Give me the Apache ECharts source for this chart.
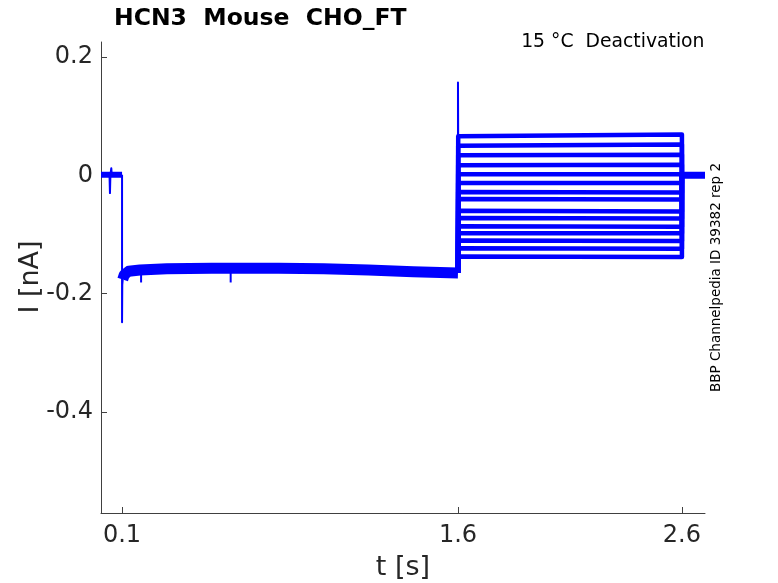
<!DOCTYPE html>
<html>
<head>
<meta charset="utf-8">
<script src="https://cdn.jsdelivr.net/npm/echarts@6/dist/echarts.min.js"></script>
<style>
html,body{margin:0;padding:0;background:#fff;}
#c{width:778px;height:583px;}
</style>
</head>
<body>
<div id="c"></div>
<script>
// ---- data (t in s, I in nA) ----
const xTicks = [0.1, 1.6, 2.6];
const yTicks = [-0.4, -0.2, 0, 0.2];
const xRange = [0.006, 2.703];
const yRange = [-0.5705, 0.2253];

// pre-pulse holding segment
const preT = [0.006, 0.1];
const preI = [0.001, 0.001];
// small artifacts during the pre-pulse segment
const artT = [0.044, 0.046, 0.048, 0.050, 0.052, 0.054];
const artI = [0.000, -0.030, 0.000, 0.001, 0.012, 0.001];

// fast transient at the first step
const stepT = [0.1, 0.1, 0.101, 0.103];
const stepI = [0.001, -0.248, -0.185, -0.176];

// common first test segment
const holdT = [0.103, 0.11, 0.13, 0.18, 0.3, 0.5, 0.8, 1.0, 1.2, 1.4, 1.6];
const holdI = [-0.176, -0.168, -0.162, -0.160, -0.158, -0.157, -0.157, -0.158, -0.160, -0.163, -0.165];
// brief downward glitches in the first test segment
const glitchT = [0.185, 0.585];
const glitchI = [-0.181, -0.181];

// capacity spike at 1.6 s
const spikeT = [1.6, 1.6, 1.601];
const spikeI = [-0.165, 0.157, 0.060];

// deactivation step levels (one per sweep), start and end of 1.6-2.6 s
const sweepStart = [0.066, 0.050, 0.034, 0.017, 0.002, -0.013, -0.028, -0.040, -0.060, -0.072, -0.086, -0.098, -0.110, -0.123, -0.137];
const sweepEnd   = [0.069, 0.052, 0.035, 0.018, 0.002, -0.013, -0.029, -0.041, -0.061, -0.073, -0.087, -0.098, -0.111, -0.124, -0.138];
const segT = [1.601, 2.6];

// tail after return
const tailT = [2.6, 2.703];
const tailI = [0.000, 0.000];

const blue = '#0000ff';
const pairs = (ts, vs) => ts.map((t, i) => [t, vs[i]]);

const series = [];
function addLine(data, width, z) {
  series.push({
    type: 'line', data: data, showSymbol: false, symbol: 'none',
    lineStyle: { color: blue, width: width, join: 'round', cap: 'butt' },
    z: z || 2, animation: false, silent: true
  });
}
addLine(pairs(preT, preI), 6);
addLine(pairs(artT, artI), 2);
addLine(pairs(stepT, stepI), 2);
addLine(pairs(holdT, holdI), 11);
glitchT.forEach((t, k) => addLine([[t, -0.165], [t, glitchI[k]]], 2));
sweepStart.forEach((s, k) => {
  addLine([[1.6, -0.165], [segT[0], s], [segT[1], sweepEnd[k]], [2.6, 0]], 4.5);
});
addLine(pairs(spikeT, spikeI), 2, 3);
addLine(pairs(tailT, tailI), 7);

const chart = echarts.init(document.getElementById('c'), null, { renderer: 'canvas' });
const axisCol = '#404040';
const textCol = '#262626';
const FF = 'DejaVu Sans';
chart.setOption({
  backgroundColor: '#fff',
  animation: false,
  grid: { left: 101, right: 73, top: 42, bottom: 70, containLabel: false },
  xAxis: {
    type: 'value', min: xRange[0], max: xRange[1],
    axisLine: { show: true, onZero: false, lineStyle: { color: axisCol, width: 1 } },
    axisTick: { show: true, inside: true, length: 6, customValues: xTicks, lineStyle: { color: axisCol } },
    axisLabel: { customValues: xTicks, color: textCol, fontSize: 24, fontFamily: FF, margin: 11,
      formatter: v => String(v) },
    splitLine: { show: false }
  },
  yAxis: {
    type: 'value', min: yRange[0], max: yRange[1],
    axisLine: { show: true, onZero: false, lineStyle: { color: axisCol, width: 1 } },
    axisTick: { show: true, inside: true, length: 6, customValues: yTicks, lineStyle: { color: axisCol } },
    axisLabel: { customValues: yTicks, color: textCol, fontSize: 24, fontFamily: FF, margin: 8,
      formatter: v => (Math.abs(v) < 1e-9 ? '0' : String(+v.toFixed(1))) },
    splitLine: { show: false }
  },
  graphic: [
    { type: 'text', x: 114, y: 19, style: { text: 'HCN3  Mouse  CHO_FT', fill: '#000', font: 'bold 23.5px "DejaVu Sans"', verticalAlign: 'middle' } },
    { type: 'text', x: 704.5, y: 42, style: { text: '15 °C  Deactivation', fill: '#000', font: '18.8px "DejaVu Sans"', align: 'right', verticalAlign: 'middle' } },
    { type: 'text', x: 31, y: 277, rotation: Math.PI / 2,
      style: { text: 'I [nA]', fill: textCol, font: '27px "DejaVu Sans"', align: 'center', verticalAlign: 'middle' } },
    { type: 'text', x: 403, y: 568,
      style: { text: 't [s]', fill: textCol, font: '27px "DejaVu Sans"', align: 'center', verticalAlign: 'middle' } },
    { type: 'text', x: 716, y: 277.5, rotation: Math.PI / 2,
      style: { text: 'BBP Channelpedia ID 39382 rep 2', fill: '#000', font: '13.5px "DejaVu Sans"', align: 'center', verticalAlign: 'middle' } }
  ],
  series: series
});
</script>
</body>
</html>
